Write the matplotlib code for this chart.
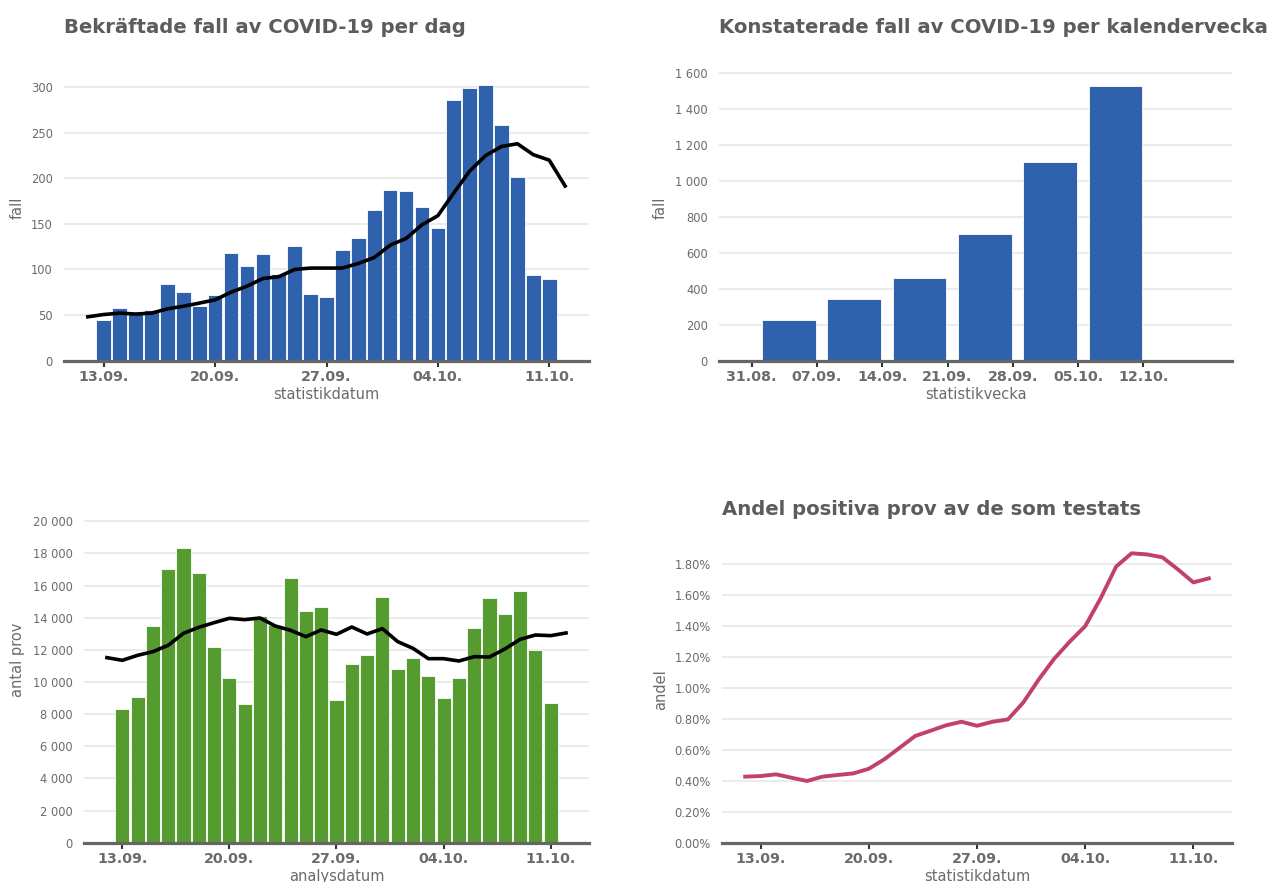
import datetime as dt
import matplotlib
matplotlib.use('Agg')
import matplotlib.pyplot as plt
import matplotlib.dates as mdates
from matplotlib.ticker import FuncFormatter, MultipleLocator

# ---- data ----
bar_days = [dt.datetime(2020, 9, 13) + dt.timedelta(days=i) for i in range(29)]   # 13.09 - 11.10
line_days = [dt.datetime(2020, 9, 12) + dt.timedelta(days=i) for i in range(31)]  # 12.09 - 12.10

fall_per_dag = [45, 58, 52, 56, 84, 75, 60, 72, 118, 104, 117, 95, 126, 73, 70,
                121, 134, 165, 187, 186, 168, 146, 286, 299, 302, 259, 202, 94, 89]
fall_medel = [48, 50.5, 52, 51, 52, 56.7, 59.6, 63, 66.6, 75, 81.6, 90, 92, 100, 101.5,
              101.5, 101.5, 106.6, 113, 126.6, 134, 149, 159, 184, 208, 225, 235, 238,
              226, 220, 191.6]

veckor = [dt.datetime(2020, 8, 31) + dt.timedelta(weeks=i) for i in range(6)]
fall_per_vecka = [228, 345, 457, 704, 1107, 1532]
vecka_ticks = [dt.datetime(2020, 8, 31) + dt.timedelta(weeks=i) for i in range(7)]

antal_prov = [8320, 9046, 13485, 17054, 18320, 16805, 12178, 10228, 8630, 14087, 13548,
              16452, 14398, 14668, 8880, 11141, 11660, 15290, 10788, 11494, 10373, 9025,
              10228, 13340, 15249, 14232, 15685, 12012, 8672]
prov_medel = [11515, 11349, 11660, 11888, 12282, 13029, 13402, 13693, 13963, 13880, 13983,
              13485, 13216, 12822, 13237, 12967, 13423, 12988, 13320, 12510, 12095, 11452,
              11452, 11307, 11577, 11556, 12054, 12656, 12925, 12884, 13050]

andel_positiva = [0.427, 0.431, 0.442, 0.420, 0.399, 0.427, 0.438, 0.448, 0.478, 0.539,
                  0.614, 0.690, 0.724, 0.759, 0.782, 0.756, 0.782, 0.797, 0.907, 1.056,
                  1.190, 1.300, 1.400, 1.580, 1.785, 1.871, 1.864, 1.845, 1.767, 1.683,
                  1.709]

day_ticks = [dt.datetime(2020, 9, 13) + dt.timedelta(weeks=i) for i in range(5)]

# ---- style ----
W, H = 1269, 882
BLUE = '#2f61ac'
GREEN = '#559b30'
PINK = '#c0416f'
TITLE_C = '#5c5c5c'
TEXT_C = '#6b6b6b'
GRID_C = '#e6e6ea'
AXIS_C = '#666666'

fig = plt.figure(figsize=(W / 100, H / 100), dpi=100)
fig.patch.set_facecolor('white')


def px_axes(x0, x1, ytop, ybot):
    return fig.add_axes([x0 / W, 1 - ybot / H, (x1 - x0) / W, (ybot - ytop) / H])


def style(ax, xlabel, ylabel, ylab_x, ylab_y, xlab_x, xlab_y):
    for s in ['top', 'right', 'left']:
        ax.spines[s].set_visible(False)
    ax.spines['bottom'].set_color(AXIS_C)
    ax.spines['bottom'].set_linewidth(2.3)
    ax.spines['bottom'].set_zorder(5)
    ax.grid(axis='y', color=GRID_C, linewidth=1.1)
    ax.set_axisbelow(True)
    ax.tick_params(axis='y', length=0, pad=8, labelsize=8.3, labelcolor=TEXT_C)
    ax.tick_params(axis='x', length=4, width=1.5, color='#333333', pad=2.5,
                   labelsize=10.3, labelcolor=TEXT_C)
    for t in ax.get_xticklabels():
        t.set_fontweight('bold')
    ax.set_xlabel(xlabel, fontsize=10.5, color=TEXT_C)
    ax.set_ylabel(ylabel, fontsize=10.5, color=TEXT_C)
    ax.xaxis.set_label_coords(xlab_x / W, 1 - xlab_y / H, transform=fig.transFigure)
    ax.yaxis.set_label_coords(ylab_x / W, 1 - ylab_y / H, transform=fig.transFigure)


def title(x, y, txt):
    fig.text(x / W, 1 - y / H, txt, fontsize=14.1, fontweight='bold', color=TITLE_C,
             va='baseline', ha='left')


daily_xlim = (dt.datetime(2020, 9, 10, 12), dt.datetime(2020, 10, 13, 12))
day_fmt = mdates.DateFormatter('%d.%m.')
thousands = FuncFormatter(lambda v, p: f'{v:,.0f}'.replace(',', ' '))

# top left: cases per day
ax1 = px_axes(64, 589, 80, 360.5)
ax1.bar(bar_days, fall_per_dag, width=0.92, color=BLUE, edgecolor='white', linewidth=0.6)
ax1.plot(line_days, fall_medel, color='black', linewidth=2.6, zorder=4)
ax1.set_xlim(daily_xlim)
ax1.set_ylim(0, 308)
ax1.yaxis.set_major_locator(MultipleLocator(50))
ax1.set_xticks(day_ticks)
ax1.xaxis.set_major_formatter(day_fmt)
style(ax1, 'statistikdatum', 'fall', 25, 208, (64 + 589) / 2, 387)
title(64, 33, 'Bekräftade fall av COVID-19 per dag')

# top right: cases per week
ax2 = px_axes(719, 1232, 66, 360.5)
ax2.bar([d + dt.timedelta(days=4) for d in veckor], fall_per_vecka, width=5.75,
        color=BLUE, edgecolor='white', linewidth=0.6)
ax2.set_xlim(dt.datetime(2020, 8, 27, 12), dt.datetime(2020, 10, 21, 12))
ax2.set_ylim(0, 1641)
ax2.yaxis.set_major_locator(MultipleLocator(200))
ax2.yaxis.set_major_formatter(thousands)
ax2.set_xticks(vecka_ticks)
ax2.xaxis.set_major_formatter(day_fmt)
style(ax2, 'statistikvecka', 'fall', 668, 208, (719 + 1232) / 2, 387)
title(719, 33, 'Konstaterade fall av COVID-19 per kalendervecka')

# bottom left: number of tests
ax3 = px_axes(84, 589, 515, 842.7)
ax3.bar(bar_days, antal_prov, width=0.92, color=GREEN, edgecolor='white', linewidth=0.6)
ax3.plot(line_days, prov_medel, color='black', linewidth=2.6, zorder=4)
ax3.set_xlim(daily_xlim)
ax3.set_ylim(0, 20392)
ax3.yaxis.set_major_locator(MultipleLocator(2000))
ax3.yaxis.set_major_formatter(thousands)
ax3.set_xticks(day_ticks)
ax3.xaxis.set_major_formatter(day_fmt)
style(ax3, 'analysdatum', 'antal prov', 25, 660, (84 + 589) / 2, 869)

# bottom right: share positive
ax4 = px_axes(722, 1232, 550, 842.7)
ax4.plot(line_days, andel_positiva, color=PINK, linewidth=2.8)
ax4.set_xlim(daily_xlim)
ax4.set_ylim(0, 1.8924)
ax4.yaxis.set_major_locator(MultipleLocator(0.2))
ax4.yaxis.set_major_formatter(FuncFormatter(lambda v, p: f'{v:.2f}%'))
ax4.set_xticks(day_ticks)
ax4.xaxis.set_major_formatter(day_fmt)
style(ax4, 'statistikdatum', 'andel', 668, 690, (722 + 1232) / 2, 869)
title(722, 515, 'Andel positiva prov av de som testats')

fig.savefig('out.png', dpi=100, facecolor='white')
